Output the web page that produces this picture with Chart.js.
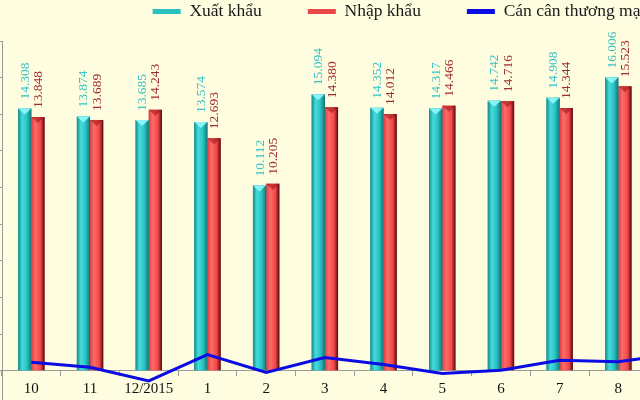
<!DOCTYPE html>
<html><head><meta charset="utf-8">
<script src="https://cdn.jsdelivr.net/npm/chart.js@4.4.0/dist/chart.umd.min.js"></script>
<style>
html,body{margin:0;padding:0;overflow:hidden;background:#FEFDDF;width:640px;height:400px;}
#wrap{position:absolute;left:0;top:0;width:798px;height:400px;}
</style></head><body>
<div id="wrap"><canvas id="c" width="798" height="400"></canvas></div>
<script>
const categories = ['10','11','12/2015','1','2','3','4','5','6','7','8','9'];
const exportValues = [14.308,13.874,13.685,13.574,10.112,15.094,14.352,14.317,14.742,14.908,16.006,15.5];
const importValues = [13.848,13.689,14.243,12.693,10.205,14.380,14.012,14.466,14.716,14.344,15.523,14.6];
const balanceValues = [0.46,0.185,-0.558,0.881,-0.093,0.714,0.34,-0.149,0.026,0.564,0.483,0.92];
const seriesNames = ['Xuất khẩu','Nhập khẩu','Cán cân thương mại'];
const exportLabels = ['14.308','13.874','13.685','13.574','10.112','15.094','14.352','14.317','14.742','14.908','16.006','15.500'];
const importLabels = ['13.848','13.689','14.243','12.693','10.205','14.380','14.012','14.466','14.716','14.344','15.523','14.600'];

const W = 798;
const PLOT_RIGHT = 706.4;

const barStyle = {
  0: {stops:[[0,'#178888'],[0.3,'#43dcdc'],[0.65,'#2cc3c3'],[0.9,'#1a8f8f'],[1,'#0f6464']], cap:'rgba(150,250,250,0.85)', label:'#36c3c9', texts: exportLabels},
  1: {stops:[[0,'#d94040'],[0.3,'#ff6a6a'],[0.7,'#f04848'],[0.86,'#a32323'],[1,'#4a0c0c']], cap:'rgba(150,20,20,0.55)', label:'#9e2a34', texts: importLabels}
};
const legendFills = ['#2bbfc0','#e84848','#0b0be3'];

const barPainter = {
  id: 'barPainter',
  afterDatasetDraw(chart, args) {
    const st = barStyle[args.index];
    if (!st) return;
    const ctx = chart.ctx;
    const area = chart.chartArea;
    ctx.save();
    ctx.beginPath();
    ctx.rect(area.left, 0, area.right - area.left, area.bottom);
    ctx.clip();
    args.meta.data.forEach((el, i) => {
      const p = el.getProps(['x','y','base','width'], true);
      const l = p.x - p.width / 2, r = p.x + p.width / 2;
      const g = ctx.createLinearGradient(l, 0, r, 0);
      st.stops.forEach(s => g.addColorStop(s[0], s[1]));
      ctx.fillStyle = g;
      ctx.fillRect(l, p.y, p.width, p.base - p.y);
      ctx.beginPath();
      ctx.moveTo(l, p.y); ctx.lineTo(r, p.y); ctx.lineTo(p.x, p.y + 6); ctx.closePath();
      ctx.fillStyle = st.cap; ctx.fill();
      ctx.save();
      ctx.translate(p.x + 0.5, p.y - 9);
      ctx.rotate(-Math.PI / 2);
      ctx.textAlign = 'left';
      ctx.textBaseline = 'middle';
      ctx.font = '13.5px "Liberation Serif"';
      ctx.fillStyle = st.label;
      ctx.fillText(st.texts[i], 0, 0);
      ctx.restore();
    });
    ctx.restore();
  }
};

new Chart(document.getElementById('c'), {
  data: {
    labels: categories,
    datasets: [
      {type:'bar', label: seriesNames[0], data: exportValues, backgroundColor:'#2bbfc0', order:1,
       categoryPercentage:0.45, barPercentage:1.0},
      {type:'bar', label: seriesNames[1], data: importValues, backgroundColor:'#f04a4a', order:1,
       categoryPercentage:0.45, barPercentage:1.0},
      {type:'line', label: seriesNames[2], data: balanceValues, borderColor:'#0b0be3', backgroundColor:'#0b0be3',
       borderWidth:3, pointRadius:0, tension:0, order:0}
    ]
  },
  options: {
    responsive:false, animation:false, devicePixelRatio:1,
    layout:{padding:{top:-43.25,left:0,right:0,bottom:0}},
    plugins:{
      tooltip:{enabled:false},
      legend:{
        display:true, position:'top', align:'center',
        labels:{
          boxWidth:28, boxHeight:5, padding:46, color:'#1a1a1a',
          font:{family:'Liberation Serif', size:17.5},
          sort:(a, b) => a.datasetIndex - b.datasetIndex,
          generateLabels(chart){
            const items = Chart.defaults.plugins.legend.labels.generateLabels(chart);
            items.forEach(it => { const f = legendFills[it.datasetIndex]; it.fillStyle = f; it.strokeStyle = f; it.lineWidth = 0; });
            return items;
          }
        }
      }
    },
    scales:{
      x:{
        type:'category', position:{y:0}, offset:true,
        grid:{display:true, drawOnChartArea:false, drawTicks:true, tickLength:5, color:'#9a9a9a', offset:true},
        border:{display:true, color:'#9a9a9a', width:1},
        ticks:{color:'#111', font:{family:'Liberation Serif', size:15}, padding:4, maxRotation:0, autoSkip:false}
      },
      xTop:{
        type:'category', position:'top', display:true,
        grid:{display:false}, border:{display:false}, ticks:{display:false},
        afterFit(s){ s.height = 10.75; }
      },
      y:{
        type:'linear', position:'left', min:-1.6, max:18,
        grid:{display:true, drawOnChartArea:false, drawTicks:true, tickLength:4, color:'#9a9a9a'},
        border:{display:true, color:'#9a9a9a', width:1},
        ticks:{display:false, stepSize:2},
        afterFit(s){ s.width = 2; }
      },
      yR:{
        type:'linear', position:'right', display:true,
        grid:{display:false}, border:{display:false}, ticks:{display:false},
        afterFit(s){ s.width = W - PLOT_RIGHT; }
      }
    }
  },
  plugins:[barPainter]
});
</script>
</body></html>
